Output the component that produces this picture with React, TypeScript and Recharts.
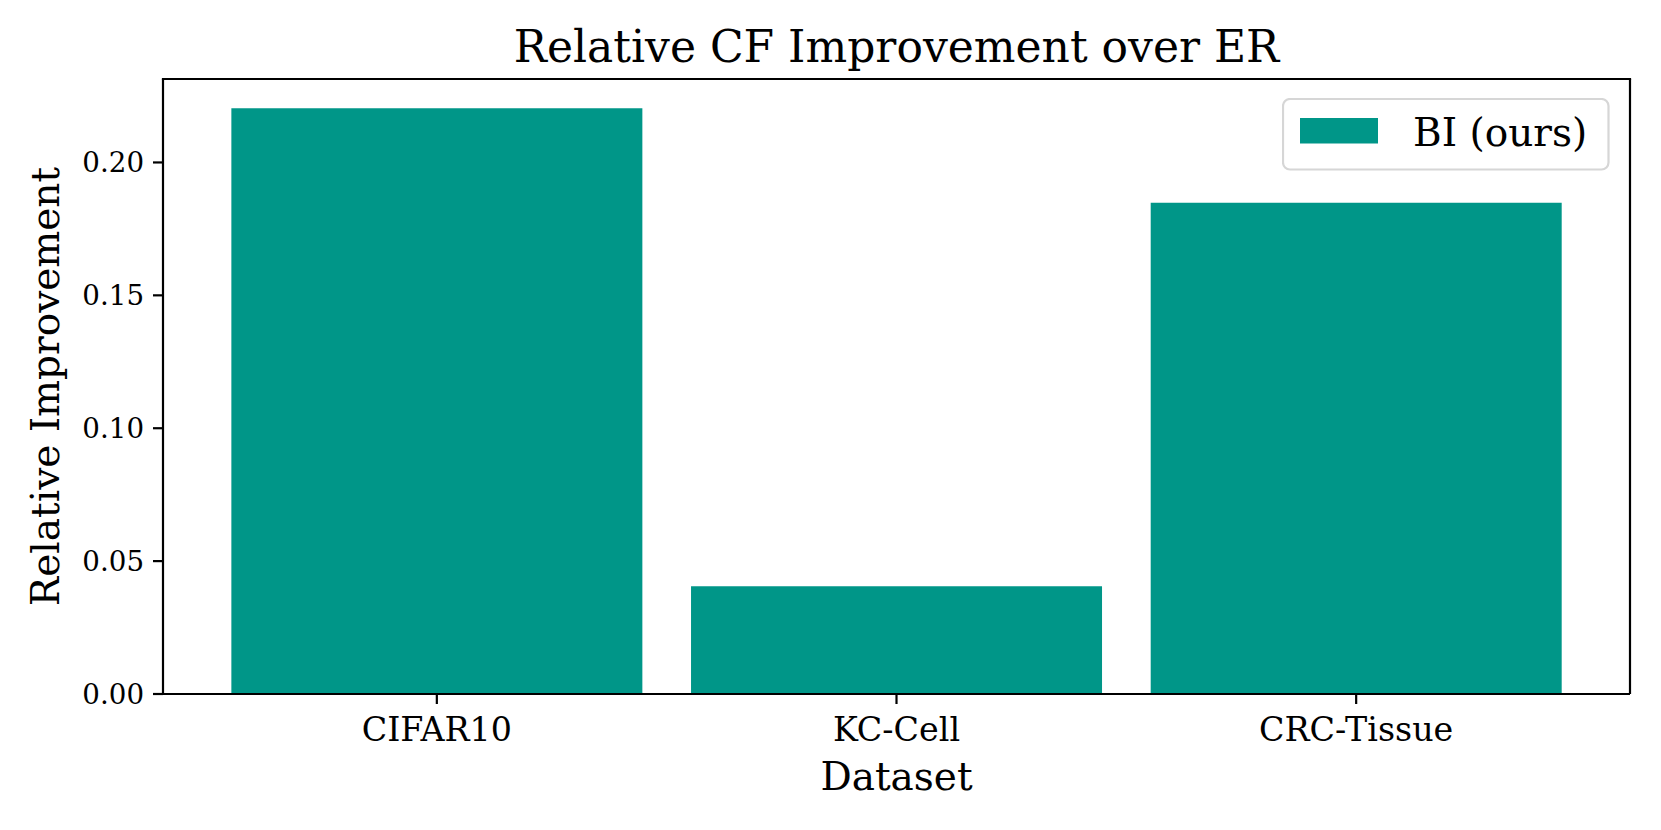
import React from 'react';
import { BarChart, Bar, XAxis, YAxis, Legend } from 'recharts';

// values
const datasets = ['CIFAR10', 'KC-Cell', 'CRC-Tissue'];
const biOurs = [0.2204, 0.0405, 0.1848];
const yTicks = [0, 0.05, 0.1, 0.15, 0.2];
const yMax = 0.2314;

const data = datasets.map((name, i) => ({ name, bi: biOurs[i] }));

const FONT = '"DejaVu Serif", "Liberation Serif", serif';
const TEAL = '#009688';
const AXIS = { stroke: '#000', strokeWidth: 2.2 };

// plot box (matplotlib style frame on all four sides)
const PLOT = { left: 163, top: 79, right: 1630, bottom: 694 };

const renderLegend = (props: any) => {
  const item = (props.payload || [])[0];
  if (!item) return null;
  return (
    <svg width={328} height={73} style={{ display: 'block' }}>
      <rect x={1} y={1} width={325.5} height={70.5} rx={7} ry={7} fill="#fff" fillOpacity={0.8} stroke="#d6d6d6" strokeWidth={2.2} />
      <rect x={18} y={20} width={78} height={25.5} fill={item.color} />
      <text x={131} y={47.5} fontFamily={FONT} fontSize={39} fill="#000">{item.value}</text>
    </svg>
  );
};

export default function App() {
  return (
    <div style={{ position: 'absolute', left: 0, top: 0, width: 1661, height: 830, background: '#fff' }}>
      <BarChart
        width={1661}
        height={830}
        data={data}
        margin={{ top: PLOT.top, right: 1661 - PLOT.right, bottom: 76, left: PLOT.left - 100 }}
        barCategoryGap="5.3%"
      >
        <XAxis
          dataKey="name"
          height={60}
          padding={{ left: 44, right: 44 }}
          axisLine={AXIS}
          tickLine={AXIS}
          tickSize={10}
          tickMargin={13}
          tick={{ fontFamily: FONT, fontSize: 33.3, fill: '#000' }}
        />
        <YAxis
          width={100}
          domain={[0, yMax]}
          ticks={yTicks}
          interval={0}
          axisLine={AXIS}
          tickLine={AXIS}
          tickSize={10}
          tickMargin={9}
          tickFormatter={(v: number) => v.toFixed(2)}
          tick={{ fontFamily: FONT, fontSize: 27.7, fill: '#000' }}
        />
        <Legend
          layout="horizontal"
          verticalAlign="middle"
          align="center"
          content={renderLegend}
          wrapperStyle={{ position: 'absolute', top: 98, left: 1282, width: 328, height: 73 }}
        />
        <Bar dataKey="bi" name="BI (ours)" fill={TEAL} isAnimationActive={false} />
      </BarChart>
      <svg width={1661} height={830} style={{ position: 'absolute', left: 0, top: 0, pointerEvents: 'none' }}>
        <line x1={PLOT.left - 1.1} y1={PLOT.top} x2={PLOT.right + 1.1} y2={PLOT.top} stroke="#000" strokeWidth={2.2} />
        <line x1={PLOT.right} y1={PLOT.top} x2={PLOT.right} y2={PLOT.bottom} stroke="#000" strokeWidth={2.2} />
        <text x={896.5} y={62} textAnchor="middle" fontFamily={FONT} fontSize={44} fill="#000">
          Relative CF Improvement over ER
        </text>
        <text x={896.5} y={790} textAnchor="middle" fontFamily={FONT} fontSize={39} fill="#000">
          Dataset
        </text>
        <text
          transform="translate(59,386.5) rotate(-90)"
          textAnchor="middle"
          fontFamily={FONT}
          fontSize={39}
          fill="#000"
        >
          Relative Improvement
        </text>
      </svg>
    </div>
  );
}
